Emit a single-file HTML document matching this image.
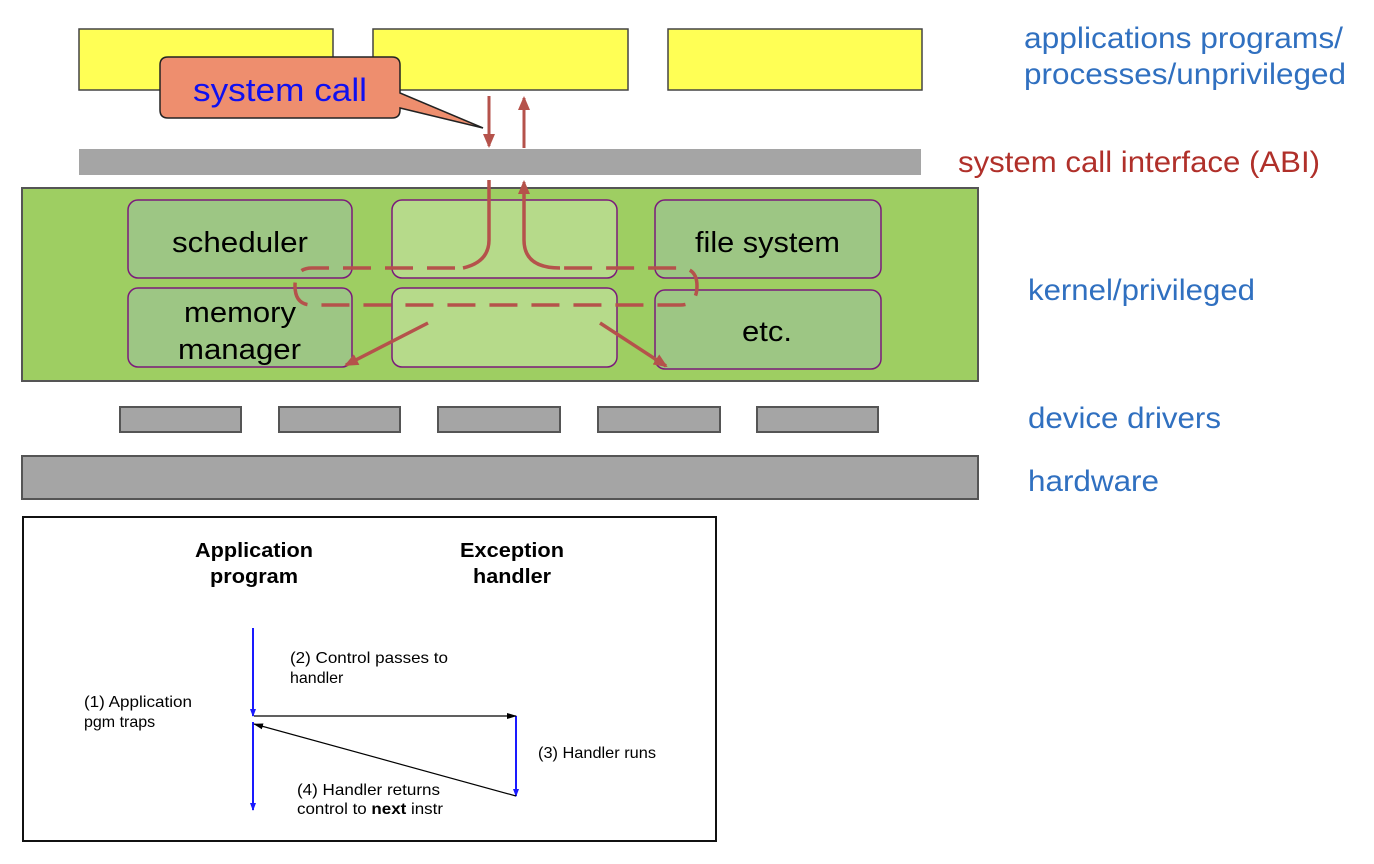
<!DOCTYPE html>
<html><head><meta charset="utf-8"><style>
html,body{margin:0;padding:0;background:#fff;}
svg{display:block;font-family:"Liberation Sans",Arial,sans-serif;}
</style></head><body>
<svg width="1374" height="864" viewBox="0 0 1374 864" xmlns="http://www.w3.org/2000/svg">
<defs>
<marker id="ra2" markerWidth="14" markerHeight="12" refX="12" refY="6" orient="auto" markerUnits="userSpaceOnUse"><path d="M0,0 L14,6 L0,12 z" fill="#B5524B"/></marker>
<marker id="ba" markerWidth="8" markerHeight="8" refX="7" refY="4" orient="auto" markerUnits="userSpaceOnUse"><path d="M0,1 L8,4 L0,7 z" fill="#1a1aff"/></marker>
<marker id="ka" markerWidth="10" markerHeight="8" refX="9" refY="4" orient="auto" markerUnits="userSpaceOnUse"><path d="M0,1 L10,4 L0,7 z" fill="#000"/></marker>
</defs>
<rect x="79" y="29" width="254" height="61" fill="#FFFF55" stroke="#444" stroke-width="1.5"/>
<rect x="373" y="29" width="255" height="61" fill="#FFFF55" stroke="#444" stroke-width="1.5"/>
<rect x="668" y="29" width="254" height="61" fill="#FFFF55" stroke="#444" stroke-width="1.5"/>
<path d="M168,57 H392 Q400,57 400,65 V93 L483,128 L400,108 V110 Q400,118 392,118 H168 Q160,118 160,110 V65 Q160,57 168,57 Z" fill="#EE8E6E" stroke="#222" stroke-width="1.5"/>
<text x="193" y="101" font-size="32" fill="#1010F0" textLength="174" lengthAdjust="spacingAndGlyphs">system call</text>
<rect x="79" y="149" width="842" height="26" fill="#A5A5A5"/>
<line x1="489" y1="96" x2="489" y2="146" stroke="#B5524B" stroke-width="3" marker-end="url(#ra2)"/>
<line x1="524" y1="148" x2="524" y2="98" stroke="#B5524B" stroke-width="3" marker-end="url(#ra2)"/>
<rect x="22" y="188" width="956" height="193" fill="#9ECE62" stroke="#555" stroke-width="2"/>
<g stroke="#7B1A7B" stroke-width="1.5">
<rect x="128" y="200" width="224" height="78" rx="10" fill="#9DC684"/>
<rect x="392" y="200" width="225" height="78" rx="10" fill="#B6DA8A"/>
<rect x="655" y="200" width="226" height="78" rx="10" fill="#9DC684"/>
<rect x="128" y="288" width="224" height="79" rx="10" fill="#9DC684"/>
<rect x="392" y="288" width="225" height="79" rx="10" fill="#B6DA8A"/>
<rect x="655" y="290" width="226" height="79" rx="10" fill="#9DC684"/>
</g>
<g font-size="29" fill="#000">
<text x="172" y="252" textLength="136" lengthAdjust="spacingAndGlyphs">scheduler</text>
<text x="695" y="252" textLength="145" lengthAdjust="spacingAndGlyphs">file system</text>
<text x="184" y="322" textLength="112" lengthAdjust="spacingAndGlyphs">memory</text>
<text x="178" y="359" textLength="123" lengthAdjust="spacingAndGlyphs">manager</text>
<text x="742" y="341" textLength="50" lengthAdjust="spacingAndGlyphs">etc.</text>
</g>
<g fill="none" stroke="#B5524B" stroke-width="3.5">
<path d="M489,180 V240 Q489,262 463,268"/>
<path d="M455,268 H312 Q295,268 295,286 Q295,305 312,305 H680 Q697,305 697,286 Q697,268 680,268 H560" stroke-dasharray="28,14"/>
<path d="M560,268 Q524,268 524,240 V190"/>
</g>
<line x1="524" y1="192" x2="524" y2="182" stroke="#B5524B" stroke-width="3" marker-end="url(#ra2)"/>
<line x1="428" y1="323" x2="346" y2="365" stroke="#B5524B" stroke-width="3.5" marker-end="url(#ra2)"/>
<line x1="600" y1="323" x2="666" y2="366" stroke="#B5524B" stroke-width="3.5" marker-end="url(#ra2)"/>
<g fill="#A5A5A5" stroke="#555" stroke-width="2">
<rect x="120" y="407" width="121" height="25"/>
<rect x="279" y="407" width="121" height="25"/>
<rect x="438" y="407" width="122" height="25"/>
<rect x="598" y="407" width="122" height="25"/>
<rect x="757" y="407" width="121" height="25"/>
<rect x="22" y="456" width="956" height="43"/>
</g>
<g font-size="30" fill="#3070C0">
<text x="1024" y="48" textLength="319" lengthAdjust="spacingAndGlyphs">applications programs/</text>
<text x="1024" y="84" textLength="322" lengthAdjust="spacingAndGlyphs">processes/unprivileged</text>
<text x="1028" y="300" textLength="227" lengthAdjust="spacingAndGlyphs">kernel/privileged</text>
<text x="1028" y="428" textLength="193" lengthAdjust="spacingAndGlyphs">device drivers</text>
<text x="1028" y="491" textLength="131" lengthAdjust="spacingAndGlyphs">hardware</text>
</g>
<text x="958" y="172" font-size="30" fill="#B0302A" textLength="362" lengthAdjust="spacingAndGlyphs">system call interface (ABI)</text>
<rect x="23" y="517" width="693" height="324" fill="#fff" stroke="#111" stroke-width="2"/>
<g font-size="20" font-weight="bold">
<text x="195" y="557" textLength="118" lengthAdjust="spacingAndGlyphs">Application</text>
<text x="210" y="583" textLength="88" lengthAdjust="spacingAndGlyphs">program</text>
<text x="460" y="557" textLength="104" lengthAdjust="spacingAndGlyphs">Exception</text>
<text x="473" y="583" textLength="78" lengthAdjust="spacingAndGlyphs">handler</text>
</g>
<line x1="253" y1="628" x2="253" y2="716" stroke="#1a1aff" stroke-width="2" marker-end="url(#ba)"/>
<line x1="253" y1="722" x2="253" y2="810" stroke="#1a1aff" stroke-width="2" marker-end="url(#ba)"/>
<line x1="516" y1="716" x2="516" y2="796" stroke="#1a1aff" stroke-width="2" marker-end="url(#ba)"/>
<line x1="254" y1="716" x2="516" y2="716" stroke="#000" stroke-width="1.2" marker-end="url(#ka)"/>
<line x1="516" y1="796" x2="254" y2="724" stroke="#000" stroke-width="1.2" marker-end="url(#ka)"/>
<g font-size="16" fill="#000">
<text x="290" y="663" textLength="158" lengthAdjust="spacingAndGlyphs">(2) Control passes to</text>
<text x="290" y="683">handler</text>
<text x="84" y="707" textLength="108" lengthAdjust="spacingAndGlyphs">(1) Application</text>
<text x="84" y="727">pgm traps</text>
<text x="538" y="758" textLength="118" lengthAdjust="spacingAndGlyphs">(3) Handler runs</text>
<text x="297" y="795" textLength="143" lengthAdjust="spacingAndGlyphs">(4) Handler returns</text>
<text x="297" y="814" textLength="146" lengthAdjust="spacingAndGlyphs">control to <tspan font-weight="bold">next</tspan> instr</text>
</g>
</svg>
</body></html>
